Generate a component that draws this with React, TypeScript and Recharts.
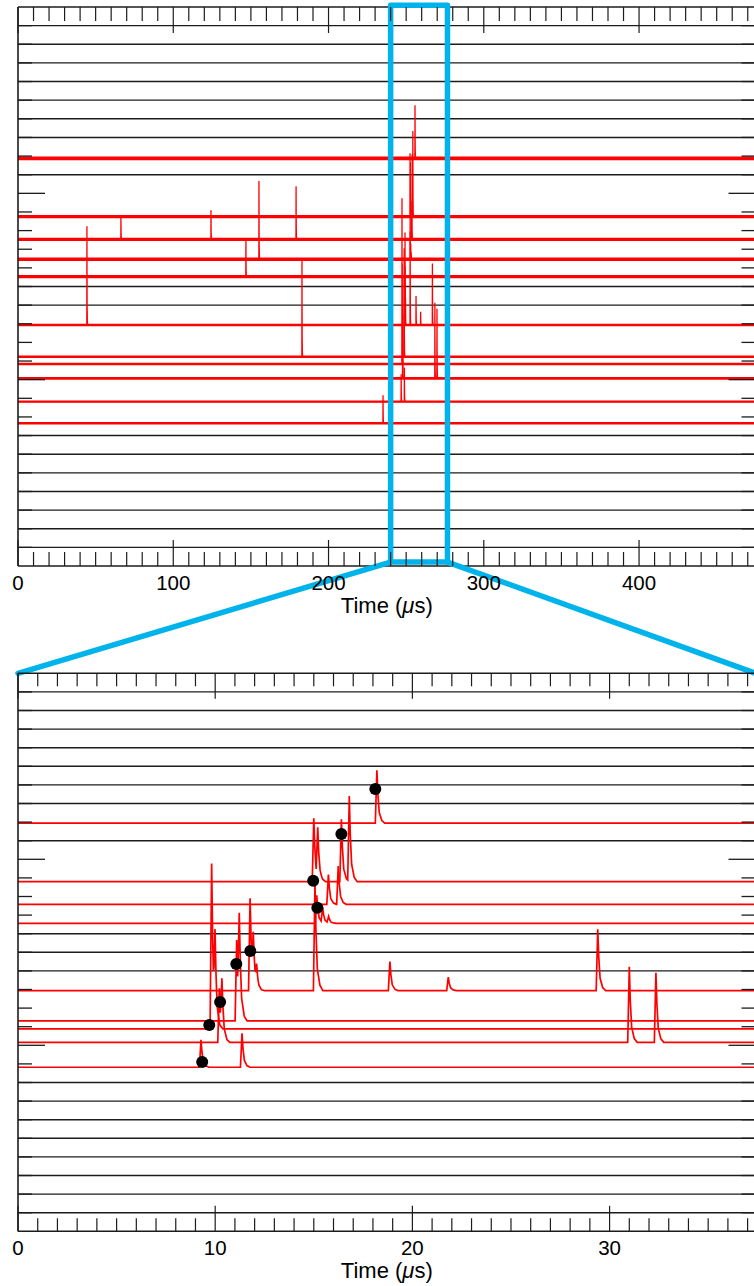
import React from 'react';
import { ComposedChart, Line, XAxis, YAxis, ReferenceLine, ReferenceArea, Scatter } from 'recharts';

// ---------------- data ----------------
const topTimeTicks = [0,10,20,30,40,50,60,70,80,90,100,110,120,130,140,150,160,170,180,190,200,210,220,230,240,250,260,270,280,290,300,310,320,330,340,350,360,370,380,390,400,410,420,430,440,450,460,470];
const zoomTimeTicks = [0,1,2,3,4,5,6,7,8,9,10,11,12,13,14,15,16,17,18,19,20,21,22,23,24,25,26,27,28,29,30,31,32,33,34,35,36,37];
const topTimeLabels = [0,100,200,300,400];
const zoomTimeLabels = [0,10,20,30];
const channelTicks = [1,2,3,4,5,6,7,8,9,10,11,12,13,14,15,16,17,18,19,20,21,22,23,24,25,26,27,28,29];
const channelMajorTicks = [10,20];

const topDomain = [0, 475];
const zoomDomain = [0, 37.4];
const channelDomain = [0, 30];

// channels drawn as flat black lines (no signal)
const topFlatChannels = [29,28,27,26,25,24,23,21,15,14,7,6,5,4,3,2,1];
const zoomFlatChannels = [29,28,27,26,25,24,23,21,16,15,14,8,7,6,5,4,3,2,1];

// red traces (baseline in channel units)
const traceNames = ['A','B','C','D','J','E','F','G','H','I','K'];
const topBaselines = [21.88,18.75,17.53,16.46,15.53,12.93,11.23,10.84,10.07,8.82,7.66];
const zoomBaselines = [21.94,18.8,17.58,16.56,null,12.94,11.31,10.88,10.16,8.82,null];
const topBandWidths = [3.8,3.4,3.4,3.4,3.2,2.4,2.4,2.4,2.8,2.4,2.4];

// pulses inside the zoom window: [time (µs, zoom axis), height (channel units)]
const zoomPulsesA = [[18.2,2.85]];
const zoomPulsesB = [[15.0,3.4],[15.2,2.55],[16.4,3.35],[16.8,4.6]];
const zoomPulsesC = [[15.74,1.6],[16.24,2.06]];
const zoomPulsesD = [[15.15,1.5],[15.45,0.8],[15.75,0.35]];
const zoomPulsesJ: number[][] = [];
const zoomPulsesE = [[11.77,4.97],[11.93,2.4],[12.1,1.0],[15.06,5.8],[18.86,1.56],[21.82,0.72],[29.4,3.3]];
const zoomPulsesF = [[11.09,4.35],[11.22,5.0]];
const zoomPulsesG = [[9.82,8.9],[9.99,4.1]];
const zoomPulsesH = [[10.21,2.9],[10.34,2.9],[31.0,4.06],[32.35,3.74]];
const zoomPulsesI = [[9.28,1.47],[11.36,1.83]];
const zoomPulsesK: number[][] = [];
const zoomPulses = [zoomPulsesA,zoomPulsesB,zoomPulsesC,zoomPulsesD,zoomPulsesJ,zoomPulsesE,zoomPulsesF,zoomPulsesG,zoomPulsesH,zoomPulsesI,zoomPulsesK];

// pulses outside the zoom window (top axis time, µs)
const topPulsesA: number[][] = [];
const topPulsesB: number[][] = [];
const topPulsesC = [[66.3,1.2],[124.3,1.56],[179.1,2.85]];
const topPulsesD = [[155.2,4.2]];
const topPulsesJ = [[146.8,2.0]];
const topPulsesE = [[44.4,5.31]];
const topPulsesF = [[182.9,5.2]];
const topPulsesG: number[][] = [];
const topPulsesH: number[][] = [];
const topPulsesI: number[][] = [];
const topPulsesK = [[235.1,1.5]];
const topOnlyPulses = [topPulsesA,topPulsesB,topPulsesC,topPulsesD,topPulsesJ,topPulsesE,topPulsesF,topPulsesG,topPulsesH,topPulsesI,topPulsesK];

// detected hit markers in zoom panel
const hitTimes = [18.12,16.40,14.97,15.18,11.78,11.07,10.25,9.70,9.34];
const hitLevels = [23.78,21.36,18.85,17.39,15.07,14.37,12.33,11.09,9.1];

// zoom window
const zoomStartTime = 237.5;
const zoomBoxTimes = [240.0, 276.6];
const zoomBoxLevels = [0.21, 30.1];

// pulse shape (relative time, fraction of height)
const pulseDt = [-0.08, 0, 0.05, 0.12, 0.25, 0.4];
const pulseFrac = [0, 1, 0.55, 0.2, 0.05, 0];

// ---------------- layout ----------------
const FONT = '"Liberation Sans", Arial, Helvetica, sans-serif';
const INK = '#1c1c1c';
const RED = '#ff0000';
const BLUE = '#00b4eb';
const CW = 790;
const PLOT_L = 18;
const PLOT_W = 737.5;
const TOP_PLOT_T = 7;
const TOP_PLOT_H = 559;
const TOP_SVG_H = 680;
const BOT_SVG_TOP = 660;
const BOT_PLOT_T = 13.3;
const BOT_PLOT_H = 558;
const BOT_SVG_H = 626;
const AX = 1; // thickness reserved for each axis

function pulseValue(t0: number, h: number, t: number) {
  const r = t - t0;
  if (r <= pulseDt[0] || r >= pulseDt[pulseDt.length - 1]) return 0;
  for (let i = 1; i < pulseDt.length; i++) {
    if (r <= pulseDt[i]) {
      const a = pulseDt[i - 1], b = pulseDt[i];
      const f = (r - a) / (b - a);
      return h * (pulseFrac[i - 1] + f * (pulseFrac[i] - pulseFrac[i - 1]));
    }
  }
  return 0;
}

function traceData(base: number, pulses: number[][], tMax: number) {
  const knots: number[] = [0, tMax];
  pulses.forEach(([t0]) => pulseDt.forEach((d) => {
    const k = Math.round((t0 + d) * 10000) / 10000;
    if (k > 0 && k < tMax) knots.push(k);
  }));
  const uniq = Array.from(new Set(knots)).sort((a, b) => a - b);
  return uniq.map((t) => ({ t, v: base + pulses.reduce((s, [t0, h]) => s + pulseValue(t0, h, t), 0) }));
}

type Lay = { top: number; bottom: number; left: number; right: number; minor: number; major: number; majorEvery: number; labels: number[]; labelDy: number; titleDy: number };

const topLay: Lay = { top: TOP_PLOT_T, bottom: TOP_PLOT_T + TOP_PLOT_H, left: PLOT_L, right: PLOT_L + PLOT_W, minor: 14, major: 26, majorEvery: 100, labels: topTimeLabels, labelDy: 23.5, titleDy: 47 };
const botLay: Lay = { top: BOT_PLOT_T, bottom: BOT_PLOT_T + BOT_PLOT_H, left: PLOT_L, right: PLOT_L + PLOT_W, minor: 13, major: 25.5, majorEvery: 10, labels: zoomTimeLabels, labelDy: 24, titleDy: 47 };

const bottomTick = (lay: Lay) => (props: any) => {
  const v = props.payload.value;
  const x = props.x;
  const major = v % lay.majorEvery === 0;
  const len = major ? lay.major : lay.minor;
  return (
    <g>
      <line x1={x} x2={x} y1={lay.bottom} y2={lay.bottom - len} stroke={INK} strokeWidth={1.2} />
      {lay.labels.includes(v) ? (
        <text x={x} y={lay.bottom + lay.labelDy} textAnchor="middle" fontFamily={FONT} fontSize={20.5} fill="#000">{v}</text>
      ) : null}
    </g>
  );
};

const topTick = (lay: Lay) => (props: any) => {
  const v = props.payload.value;
  const x = props.x;
  const major = v % lay.majorEvery === 0;
  const len = major ? lay.major : lay.minor;
  return <line x1={x} x2={x} y1={lay.top} y2={lay.top + len} stroke={INK} strokeWidth={1.2} />;
};

const leftTick = (lay: Lay) => (props: any) => {
  const v = props.payload.value;
  const y = props.y;
  const len = channelMajorTicks.includes(v) ? 27 : 14;
  return <line x1={lay.left} x2={lay.left + len} y1={y} y2={y} stroke={INK} strokeWidth={1.3} />;
};

const rightTick = (lay: Lay) => (props: any) => {
  const v = props.payload.value;
  const y = props.y;
  const len = channelMajorTicks.includes(v) ? 27 : 14;
  return <line x1={lay.right} x2={lay.right - len} y1={y} y2={y} stroke={INK} strokeWidth={1.3} />;
};

const timeTitle = (lay: Lay) => () => (
  <text x={(lay.left + lay.right) / 2} y={lay.bottom + lay.titleDy} textAnchor="middle" fontFamily={FONT} fontSize={22} fill="#000">
    <tspan>Time (</tspan>
    <tspan fontStyle="italic">μ</tspan>
    <tspan>s)</tspan>
  </text>
);

const dotShape = (p: any) => <circle cx={p.cx} cy={p.cy} r={6} fill="#000" />;

const axisLineStyle = { stroke: INK, strokeWidth: 1.6 };

function TopChart() {
  const connY = -((BOT_SVG_TOP + BOT_PLOT_T) - (TOP_PLOT_T + TOP_PLOT_H)) / (TOP_PLOT_H / 30);
  return (
    <ComposedChart
      width={CW}
      height={TOP_SVG_H}
      margin={{ top: TOP_PLOT_T - AX, right: CW - PLOT_L - PLOT_W - AX, bottom: TOP_SVG_H - TOP_PLOT_T - TOP_PLOT_H - AX, left: PLOT_L - AX }}
    >
      <XAxis xAxisId={0} dataKey="t" type="number" domain={topDomain} ticks={topTimeTicks} interval={0} allowDataOverflow height={AX}
        axisLine={axisLineStyle} tickLine={false} tick={bottomTick(topLay)} label={{ content: timeTitle(topLay) }} />
      <XAxis xAxisId="top" orientation="top" dataKey="t" type="number" domain={topDomain} ticks={topTimeTicks} interval={0} allowDataOverflow height={AX}
        axisLine={axisLineStyle} tickLine={false} tick={topTick(topLay)} />
      <YAxis yAxisId={0} dataKey="v" type="number" domain={channelDomain} ticks={channelTicks} interval={0} allowDataOverflow width={AX}
        axisLine={axisLineStyle} tickLine={false} tick={leftTick(topLay)} />
      <YAxis yAxisId="right" orientation="right" dataKey="v" type="number" domain={channelDomain} ticks={channelTicks} interval={0} allowDataOverflow width={AX}
        axisLine={axisLineStyle} tickLine={false} tick={rightTick(topLay)} />
      {topFlatChannels.map((c) => (
        <ReferenceLine key={'tf' + c} y={c} stroke={INK} strokeWidth={1.4} zIndex={350} />
      ))}
      {traceNames.map((n, i) => (
        <Line key={'tb' + n} data={[{ t: 0, v: topBaselines[i] }, { t: 475, v: topBaselines[i] }]} dataKey="v" type="linear"
          stroke={RED} strokeWidth={topBandWidths[i]} dot={false} activeDot={false} isAnimationActive={false} />
      ))}
      {traceNames.map((n, i) => (
        <Line key={'tp' + n}
          data={traceData(topBaselines[i], zoomPulses[i].map(([t, h]) => [t + zoomStartTime, h]).concat(topOnlyPulses[i]), 475)}
          dataKey="v" type="linear" stroke={RED} strokeWidth={1.3} dot={false} activeDot={false} isAnimationActive={false} />
      ))}
      <ReferenceArea x1={zoomBoxTimes[0]} x2={zoomBoxTimes[1]} y1={zoomBoxLevels[0]} y2={zoomBoxLevels[1]} ifOverflow="visible"
        fill="none" fillOpacity={0} stroke={BLUE} strokeWidth={5.5} strokeLinejoin="round" zIndex={1500} />
      <ReferenceLine segment={[{ x: zoomBoxTimes[0], y: zoomBoxLevels[0] }, { x: topDomain[0], y: connY }]} ifOverflow="visible"
        stroke={BLUE} strokeWidth={5.5} strokeLinecap="round" zIndex={1500} />
      <ReferenceLine segment={[{ x: zoomBoxTimes[1], y: zoomBoxLevels[0] }, { x: topDomain[1], y: connY }]} ifOverflow="visible"
        stroke={BLUE} strokeWidth={5.5} strokeLinecap="round" zIndex={1500} />
    </ComposedChart>
  );
}

function BottomChart() {
  const hits = hitTimes.map((t, i) => ({ t, v: hitLevels[i] }));
  return (
    <ComposedChart
      width={CW}
      height={BOT_SVG_H}
      margin={{ top: BOT_PLOT_T - AX, right: CW - PLOT_L - PLOT_W - AX, bottom: BOT_SVG_H - BOT_PLOT_T - BOT_PLOT_H - AX, left: PLOT_L - AX }}
    >
      <XAxis xAxisId={0} dataKey="t" type="number" domain={zoomDomain} ticks={zoomTimeTicks} interval={0} allowDataOverflow height={AX}
        axisLine={axisLineStyle} tickLine={false} tick={bottomTick(botLay)} label={{ content: timeTitle(botLay) }} />
      <XAxis xAxisId="top" orientation="top" dataKey="t" type="number" domain={zoomDomain} ticks={zoomTimeTicks} interval={0} allowDataOverflow height={AX}
        axisLine={axisLineStyle} tickLine={false} tick={topTick(botLay)} />
      <YAxis yAxisId={0} dataKey="v" type="number" domain={channelDomain} ticks={channelTicks} interval={0} allowDataOverflow width={AX}
        axisLine={axisLineStyle} tickLine={false} tick={leftTick(botLay)} />
      <YAxis yAxisId="right" orientation="right" dataKey="v" type="number" domain={channelDomain} ticks={channelTicks} interval={0} allowDataOverflow width={AX}
        axisLine={axisLineStyle} tickLine={false} tick={rightTick(botLay)} />
      {zoomFlatChannels.map((c) => (
        <ReferenceLine key={'bf' + c} y={c} stroke={INK} strokeWidth={1.4} zIndex={350} />
      ))}
      {traceNames.map((n, i) => zoomBaselines[i] === null ? null : (
        <Line key={'bp' + n} data={traceData(zoomBaselines[i] as number, zoomPulses[i], zoomDomain[1])} dataKey="v" type="linear"
          stroke={RED} strokeWidth={1.7} dot={false} activeDot={false} isAnimationActive={false} />
      ))}
      <Scatter data={hits} dataKey="v" fill="#000" shape={dotShape} isAnimationActive={false} />
    </ComposedChart>
  );
}

export default function App() {
  return (
    <div style={{ position: 'fixed', left: 0, top: 0, width: 754, height: 1286, overflow: 'hidden', background: '#fff' }}>
      <div style={{ position: 'absolute', left: 0, top: 0 }}>
        <TopChart />
      </div>
      <div style={{ position: 'absolute', left: 0, top: BOT_SVG_TOP }}>
        <BottomChart />
      </div>
    </div>
  );
}
